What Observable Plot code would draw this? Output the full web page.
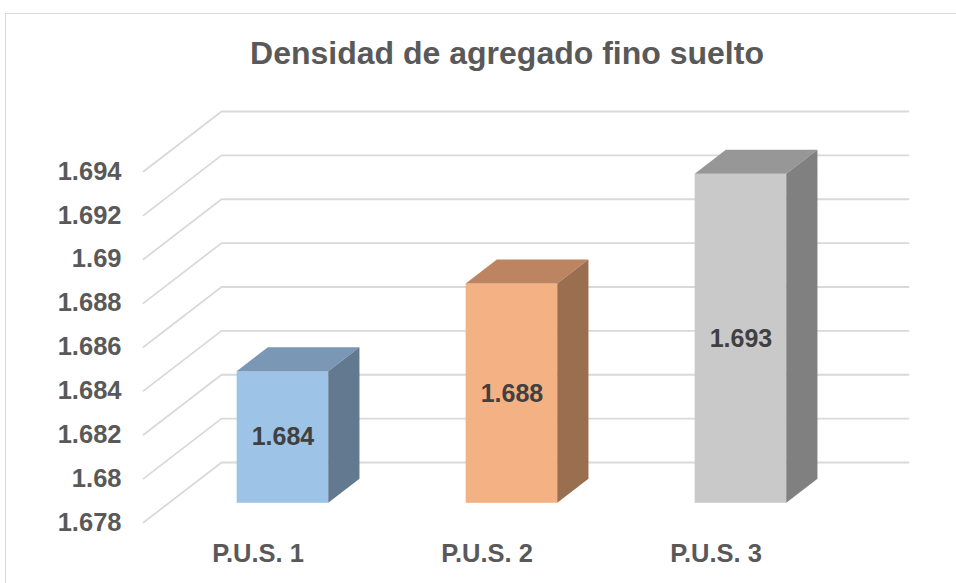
<!DOCTYPE html>
<html>
<head>
<meta charset="utf-8">
<script src="https://cdn.jsdelivr.net/npm/d3@7"></script>
<script src="https://cdn.jsdelivr.net/npm/@observablehq/plot@0.6"></script>
<style>
  html, body { margin: 0; padding: 0; background: #fff; }
  #wrap { position: relative; width: 956px; height: 583px; overflow: hidden; }
  #border { position: absolute; left: 5px; top: 13px; width: 1000px; height: 700px;
            border-left: 1.5px solid #d9d9d9; border-top: 1.5px solid #d9d9d9; }
  #title { position: absolute; left: 0; top: 35px; width: 1014px; text-align: center;
           font-family: "Liberation Sans", Arial, sans-serif; font-weight: bold;
           font-size: 32px; line-height: 36px; color: #595959; }
  #chart { position: absolute; left: 0; top: 0; }
</style>
</head>
<body>
<div id="wrap">
  <div id="border"></div>
  <div id="chart"></div>
  <div id="title">Densidad de agregado fino suelto</div>
</div>
<script>
// ---- data ----
const categories = ["P.U.S. 1", "P.U.S. 2", "P.U.S. 3"];
const values = [1.684, 1.688, 1.693];
const yTicks = [1.678, 1.68, 1.682, 1.684, 1.686, 1.688, 1.69, 1.692, 1.694];
const yTickLabels = ["1.678", "1.68", "1.682", "1.684", "1.686", "1.688", "1.69", "1.692", "1.694"];
const valueLabels = ["1.684", "1.688", "1.693"];

// ---- styling ----
const frontColors = ["#9DC3E6", "#F4B183", "#C9C9C9"];
const topColors = ["#7A98B5", "#BD8461", "#979797"];
const sideColors = ["#62798F", "#9A6F50", "#808080"];

// oblique 3D projection (in scale units)
const DX = 78 / 229;      // full depth, x units
const DY = 0.002735;      // full depth, y units
const D0 = 0.32, D1 = 0.72; // bar depth placement
const BW = 0.4;           // bar width (category units)
const BASE = 1.678;
const font = "'Liberation Sans', Arial, sans-serif";

const marks = [];

// gridlines (floor-to-back wall)
const grid = yTicks.flatMap(t => [
  {t, x: 0, y: t},
  {t, x: DX, y: t + DY},
  {t, x: 3 + DX, y: t + DY}
]);
marks.push(Plot.line(grid, {x: "x", y: "y", z: "t", stroke: "#d9d9d9", strokeWidth: 1.8}));

// bars
categories.forEach((c, i) => {
  const v = values[i];
  const L = i + 0.5 - BW / 2, R = i + 0.5 + BW / 2;
  marks.push(Plot.rect([{c}], {
    x1: () => L + D0 * DX, x2: () => R + D0 * DX,
    y1: () => BASE + D0 * DY, y2: () => v + D0 * DY,
    fill: frontColors[i], inset: 0
  }));
  marks.push(Plot.areaX([
    {y: v + D0 * DY, x1: L + D0 * DX, x2: R + D0 * DX},
    {y: v + D1 * DY, x1: L + D1 * DX, x2: R + D1 * DX}
  ], {y: "y", x1: "x1", x2: "x2", fill: topColors[i]}));
  marks.push(Plot.areaY([
    {x: R + D0 * DX, y1: BASE + D0 * DY, y2: v + D0 * DY},
    {x: R + D1 * DX, y1: BASE + D1 * DY, y2: v + D1 * DY}
  ], {x: "x", y1: "y1", y2: "y2", fill: sideColors[i]}));
});

// value labels on front faces
marks.push(Plot.text(categories, {
  x: (d, i) => i + 0.5 + D0 * DX,
  y: (d, i) => (BASE + values[i]) / 2 + D0 * DY,
  text: (d, i) => valueLabels[i],
  fontSize: 25, fontWeight: "bold", fill: "#404040", fontFamily: font
}));

// y tick labels
marks.push(Plot.text(yTicks, {
  x: 0, y: d => d, text: (d, i) => yTickLabels[i],
  dx: -22, textAnchor: "end",
  fontSize: 25.5, fontWeight: "bold", fill: "#595959", fontFamily: font
}));

// category labels
marks.push(Plot.text(categories, {
  x: (d, i) => i + 0.5, y: BASE, text: d => d, dy: 31,
  fontSize: 25.5, fontWeight: "bold", fill: "#595959", fontFamily: font
}));

const chart = Plot.plot({
  width: 956,
  height: 583,
  margin: 0,
  style: {background: "transparent", overflow: "visible"},
  x: {domain: [0, 3], range: [143, 830], axis: null},
  y: {domain: [1.678, 1.694], range: [522, 171], axis: null},
  marks
});
document.getElementById("chart").appendChild(chart);
</script>
</body>
</html>
